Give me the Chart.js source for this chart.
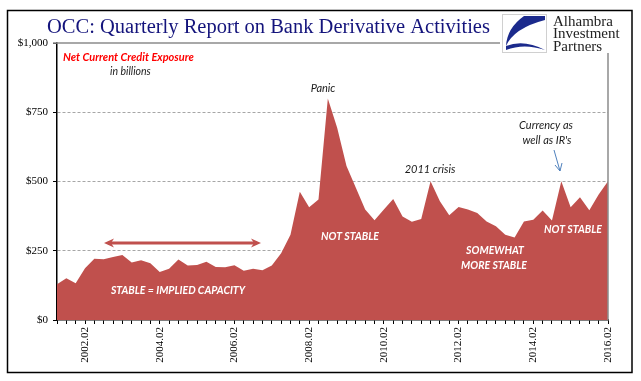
<!DOCTYPE html>
<html>
<head>
<meta charset="utf-8">
<script src="https://cdn.jsdelivr.net/npm/chart.js@4.4.0/dist/chart.umd.min.js"></script>
<style>
  body { margin: 0; background: #fff; }
  canvas { display: block; }
</style>
</head>
<body>
<canvas id="occ-chart" width="641" height="381"></canvas>
<script>
// OCC net current credit exposure, quarterly, in billions

var quarters = [
    "2001.03", "2001.04",
    "2002.01", "2002.02", "2002.03", "2002.04",
    "2003.01", "2003.02", "2003.03", "2003.04",
    "2004.01", "2004.02", "2004.03", "2004.04",
    "2005.01", "2005.02", "2005.03", "2005.04",
    "2006.01", "2006.02", "2006.03", "2006.04",
    "2007.01", "2007.02", "2007.03", "2007.04",
    "2008.01", "2008.02", "2008.03", "2008.04",
    "2009.01", "2009.02", "2009.03", "2009.04",
    "2010.01", "2010.02", "2010.03", "2010.04",
    "2011.01", "2011.02", "2011.03", "2011.04",
    "2012.01", "2012.02", "2012.03", "2012.04",
    "2013.01", "2013.02", "2013.03", "2013.04",
    "2014.01", "2014.02", "2014.03", "2014.04",
    "2015.01", "2015.02", "2015.03", "2015.04",
    "2016.01", "2016.02"
];

var exposure = [
    129, 151,
    133, 187, 221, 219,
    227, 235, 208, 216,
    205, 173, 185, 218,
    197, 199, 210, 191,
    190, 198, 178, 185,
    180, 197, 241, 308,
    463, 407, 435, 800,
    694, 556, 477, 399,
    360, 399, 437, 374,
    355, 365, 501, 429,
    378, 408, 399, 386,
    356, 338, 308, 298,
    356, 362, 395, 359,
    501, 407, 443, 396,
    453, 501
];

var tickLabels = ["2002.02", "2004.02", "2006.02", "2008.02", "2010.02", "2012.02", "2014.02", "2016.02"];
var yTicks = [0, 250, 500, 750, 1000];

var RED = '#c0504d';

function italic(ctx, size, bold) {
    ctx.font = 'italic ' + (bold ? 'bold ' : '') + size + 'px Lato';
}

var decorPlugin = {
    id: 'decor',
    beforeDraw: function (chart) {
        var ctx = chart.ctx;
        ctx.save();
        ctx.fillStyle = '#fff';
        ctx.fillRect(0, 0, chart.width, chart.height);
        ctx.restore();
    },
    afterDraw: function (chart) {
        var ctx = chart.ctx;
        var area = chart.chartArea;
        ctx.save();

        // plot border top / right
        ctx.strokeStyle = '#8c8c8c';
        ctx.lineWidth = 1.5;
        ctx.beginPath();
        ctx.moveTo(area.left - 4, area.top);
        ctx.lineTo(area.right, area.top);
        ctx.lineTo(area.right, area.bottom);
        ctx.stroke();

        // outer frame
        ctx.strokeStyle = '#000';
        ctx.lineWidth = 1.5;
        ctx.strokeRect(7.5, 10.5, 624.5, 362);

        // logo
        ctx.fillStyle = '#fff';
        ctx.fillRect(500, 12, 130, 41);
        ctx.strokeStyle = '#d0d0d0';
        ctx.lineWidth = 1;
        ctx.strokeRect(502.5, 14.5, 44, 38);
        ctx.fillStyle = '#1b2a8c';
        ctx.beginPath();
        ctx.moveTo(545, 16);
        ctx.lineTo(545, 20);
        ctx.quadraticCurveTo(514, 28, 506, 46);
        ctx.quadraticCurveTo(507, 28, 524, 16);
        ctx.closePath();
        ctx.fill();
        ctx.beginPath();
        ctx.moveTo(506, 46);
        ctx.quadraticCurveTo(524, 39, 545, 50);
        ctx.quadraticCurveTo(524, 43, 506, 50);
        ctx.closePath();
        ctx.fill();
        ctx.fillStyle = '#222';
        ctx.font = '15px "Liberation Serif"';
        ctx.textAlign = 'left';
        ctx.textBaseline = 'middle';
        ctx.fillText('Alhambra', 553, 22);
        ctx.fillText('Investment', 553, 34);
        ctx.fillText('Partners', 553, 47);

        // title
        ctx.fillStyle = '#14147c';
        ctx.font = '20.5px "Liberation Serif"';
        ctx.textBaseline = 'alphabetic';
        ctx.fillText('OCC: Quarterly Report on Bank Derivative Activities', 47, 33);

        // notes
        ctx.textBaseline = 'middle';
        italic(ctx, 11, true);
        ctx.fillStyle = '#ff0000';
        ctx.fillText('Net Current Credit Exposure', 63, 57);
        italic(ctx, 10.5, false);
        ctx.fillStyle = '#222';
        ctx.fillText('in billions', 110, 72);

        // callouts above the area
        ctx.textAlign = 'center';
        italic(ctx, 11, false);
        ctx.fillStyle = '#1a1a1a';
        ctx.fillText('Panic', 323, 88);
        ctx.fillText('2011 crisis', 430, 169);
        ctx.fillText('Currency as', 546, 125);
        ctx.fillText("well as IR's", 547, 140);

        // blue arrow
        ctx.strokeStyle = '#4f81bd';
        ctx.lineWidth = 1;
        ctx.beginPath();
        ctx.moveTo(554, 150);
        ctx.lineTo(560, 171);
        ctx.moveTo(555, 165);
        ctx.lineTo(560, 171);
        ctx.lineTo(562, 163);
        ctx.stroke();

        // white labels inside the area
        italic(ctx, 10.5, true);
        ctx.fillStyle = '#fff';
        ctx.fillText('STABLE = IMPLIED CAPACITY', 178, 291);
        ctx.fillText('NOT STABLE', 350, 237);
        ctx.fillText('SOMEWHAT', 495, 251);
        ctx.fillText('MORE STABLE', 494, 266);
        ctx.fillText('NOT STABLE', 573, 230);

        // double-headed arrow
        ctx.strokeStyle = RED;
        ctx.fillStyle = RED;
        ctx.lineWidth = 3;
        ctx.beginPath();
        ctx.moveTo(108, 243);
        ctx.lineTo(257, 243);
        ctx.stroke();
        [[104, 1], [261, -1]].forEach(function (h) {
            var x = h[0], d = h[1];
            ctx.beginPath();
            ctx.moveTo(x, 243);
            ctx.lineTo(x + d * 10, 238.5);
            ctx.lineTo(x + d * 7, 243);
            ctx.lineTo(x + d * 10, 247.5);
            ctx.closePath();
            ctx.fill();
        });

        ctx.restore();
    }
};

var ctx = document.getElementById('occ-chart').getContext('2d');
var occChart = new Chart(ctx, {
    type: 'line',
    data: {
        labels: quarters,
        datasets: [
            {
                label: 'Net Current Credit Exposure',
                data: exposure,
                fill: 'origin',
                backgroundColor: RED,
                borderWidth: 0,
                borderColor: RED,
                pointRadius: 0,
                tension: 0
            }
        ]
    },
    options: {
        responsive: false,
        animation: false,
        devicePixelRatio: 1,
        layout: { padding: { top: 43, right: 33, left: 0, bottom: 0 } },
        plugins: {
            legend: { display: false },
            tooltip: { enabled: false }
        },
        scales: {
            x: {
                offset: false,
                grid: { drawOnChartArea: false, drawTicks: true, tickLength: 4, tickColor: '#000', tickWidth: 1 },
                border: { color: '#000', width: 1.5 },
                ticks: {
                    autoSkip: false,
                    minRotation: 90,
                    maxRotation: 90,
                    padding: 3,
                    color: '#000',
                    font: { family: 'Liberation Serif', size: 11 },
                    callback: function (v, i) {
                        var l = quarters[i];
                        return tickLabels.indexOf(l) >= 0 ? l : '';
                    }
                },
                afterFit: function (s) { s.height = 61; }
            },
            y: {
                min: 0,
                max: 1000,
                afterBuildTicks: function (s) {
                    s.ticks = yTicks.map(function (v) { return { value: v }; });
                },
                grid: {
                    color: function (c) {
                        var v = c.tick ? c.tick.value : 0;
                        return (v === 0 || v === 1000) ? 'rgba(0,0,0,0)' : '#a6a6a6';
                    },
                    lineWidth: 1,
                    tickColor: '#000',
                    tickLength: 4
                },
                border: { color: '#000', width: 1.5, dash: [3, 2] },
                ticks: {
                    padding: 5,
                    color: '#000',
                    font: { family: 'Liberation Serif', size: 11 },
                    callback: function (v) { return '$' + v.toLocaleString('en-US'); }
                },
                afterFit: function (s) { s.width = 57; }
            }
        }
    },
    plugins: [decorPlugin]
});
</script>
</body>
</html>
